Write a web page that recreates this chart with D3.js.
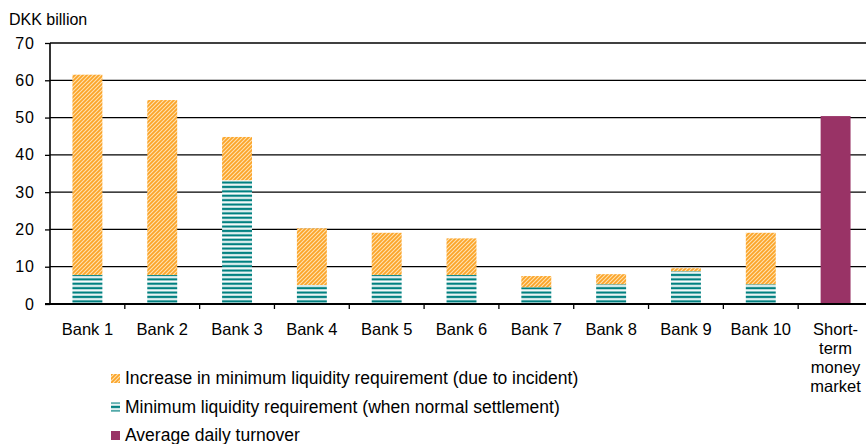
<!DOCTYPE html>
<html>
<head>
<meta charset="utf-8">
<script src="https://cdn.jsdelivr.net/npm/d3@7"></script>
<style>
  html, body { margin: 0; padding: 0; background: #fff; }
  svg { display: block; font-family: "Liberation Sans", Arial, sans-serif; }
</style>
</head>
<body>
<svg id="chart" width="866" height="444"></svg>
<script>
// ---- Data ----
const categories = ["Bank 1", "Bank 2", "Bank 3", "Bank 4", "Bank 5", "Bank 6", "Bank 7", "Bank 8", "Bank 9", "Bank 10", "Short-term money market"];
const categoryLines = [["Bank 1"], ["Bank 2"], ["Bank 3"], ["Bank 4"], ["Bank 5"], ["Bank 6"], ["Bank 7"], ["Bank 8"], ["Bank 9"], ["Bank 10"], ["Short-", "term", "money", "market"]];
const minRequirement = [7.8, 7.8, 33.2, 5.1, 7.8, 7.8, 4.5, 5.3, 8.8, 5.3, 0];
const increaseRequirement = [53.7, 46.9, 11.6, 15.2, 11.3, 9.8, 3.0, 2.7, 0.8, 13.8, 0];
const dailyTurnover = [0, 0, 0, 0, 0, 0, 0, 0, 0, 0, 50.4];
const yTicks = [0, 10, 20, 30, 40, 50, 60, 70];
const seriesNames = [
  "Increase in minimum liquidity requirement (due to incident)",
  "Minimum liquidity requirement (when normal settlement)",
  "Average daily turnover"
];
const unitLabel = "DKK billion";

// ---- Setup ----
const svg = d3.select("#chart");
const W = 866;
const x = d3.scaleBand().domain(categories).range([50, 873]).paddingInner(0.6).paddingOuter(0.3);
const y = d3.scaleLinear().domain([0, 70]).range([304, 43]);

const defs = svg.append("defs");
const orange = "#FBA428";
const teal = "#008080";
const maroon = "#993366";

const hatch = defs.append("pattern").attr("id", "hatch")
  .attr("patternUnits", "userSpaceOnUse").attr("width", 4).attr("height", 4);
hatch.append("rect").attr("width", 4).attr("height", 4).attr("fill", orange);
hatch.append("path").attr("d", "M-1,1 L1,-1 M0,4 L4,0 M3,5 L5,3")
  .attr("stroke", "#FFE2B0").attr("stroke-width", 1.1);

const lines = defs.append("pattern").attr("id", "hlines")
  .attr("patternUnits", "userSpaceOnUse").attr("width", 8).attr("height", 4.4).attr("y", 304);
lines.append("rect").attr("width", 8).attr("height", 4.4).attr("fill", "#ffffff");
lines.append("rect").attr("y", 0.2).attr("width", 8).attr("height", 0.6).attr("fill", "#9fd0d0");
lines.append("rect").attr("y", 0.8).attr("width", 8).attr("height", 2.0).attr("fill", teal);
lines.append("rect").attr("y", 2.8).attr("width", 8).attr("height", 0.5).attr("fill", "#9fd0d0");

// ---- Gridlines ----
svg.append("g").selectAll("line").data(yTicks.filter(d => d > 0)).join("line")
  .attr("x1", 50).attr("x2", W)
  .attr("y1", d => y(d)).attr("y2", d => y(d))
  .attr("stroke", "#000").attr("stroke-width", 1.3);

// ---- Bars ----
const bw = x.bandwidth();
const gBars = svg.append("g");
categories.forEach((c, i) => {
  if (minRequirement[i] > 0) {
    gBars.append("rect").attr("x", x(c)).attr("width", bw)
      .attr("y", y(minRequirement[i])).attr("height", y(0) - y(minRequirement[i]))
      .attr("fill", "url(#hlines)");
  }
  if (increaseRequirement[i] > 0) {
    const top = minRequirement[i] + increaseRequirement[i];
    gBars.append("rect").attr("x", x(c)).attr("width", bw)
      .attr("y", y(top)).attr("height", y(minRequirement[i]) - y(top))
      .attr("fill", "url(#hatch)");
  }
  if (dailyTurnover[i] > 0) {
    gBars.append("rect").attr("x", x(c)).attr("width", bw)
      .attr("y", y(dailyTurnover[i])).attr("height", y(0) - y(dailyTurnover[i]))
      .attr("fill", maroon);
  }
});

// ---- Axes ----
const yAxis = d3.axisLeft(y).tickValues(yTicks).tickSize(5).tickPadding(10);
const gy = svg.append("g").attr("transform", "translate(50,0)").call(yAxis);
gy.select(".domain").attr("stroke", "#000").attr("stroke-width", 1.6).attr("d", `M0,${y(70)}V${y(0)}`);
gy.selectAll(".tick line").attr("stroke", "#000").attr("stroke-width", 1.3);
gy.selectAll(".tick text").attr("font-size", 16).attr("fill", "#000")
  .attr("font-family", "'Liberation Sans', Arial, sans-serif").attr("letter-spacing", 1);

// x axis line
svg.append("line").attr("x1", 45).attr("x2", W).attr("y1", y(0)).attr("y2", y(0))
  .attr("stroke", "#000").attr("stroke-width", 1.8);
// x ticks at band boundaries
const step = x.step();
svg.append("g").selectAll("line").data(categories.slice(1)).join("line")
  .attr("x1", d => x(d) - step * x.paddingInner() / 2)
  .attr("x2", d => x(d) - step * x.paddingInner() / 2)
  .attr("y1", y(0)).attr("y2", y(0) + 5)
  .attr("stroke", "#000").attr("stroke-width", 1.3);

// x labels
const gx = svg.append("g");
categories.forEach((c, i) => {
  const t = gx.append("text").attr("x", x(c) + bw / 2).attr("y", 335)
    .attr("text-anchor", "middle").attr("font-size", 16.5).attr("fill", "#000");
  categoryLines[i].forEach((ln, j) => {
    t.append("tspan").attr("x", x(c) + bw / 2).attr("y", 335 + j * 19).text(ln);
  });
});

// unit label
svg.append("text").attr("x", 9).attr("y", 25).attr("font-size", 16).attr("fill", "#000").text(unitLabel);

// ---- Legend ----
const legFills = ["url(#hatch)", "url(#hlines)", maroon];
const legY = [384, 412.5, 441];
const leg = svg.append("g");
seriesNames.forEach((s, i) => {
  leg.append("rect").attr("x", 111).attr("y", legY[i] - 10).attr("width", 9).attr("height", 9)
    .attr("fill", legFills[i]);
  leg.append("text").attr("x", 125).attr("y", legY[i]).attr("font-size", 17.5).attr("fill", "#000").text(s);
});
</script>
</body>
</html>
